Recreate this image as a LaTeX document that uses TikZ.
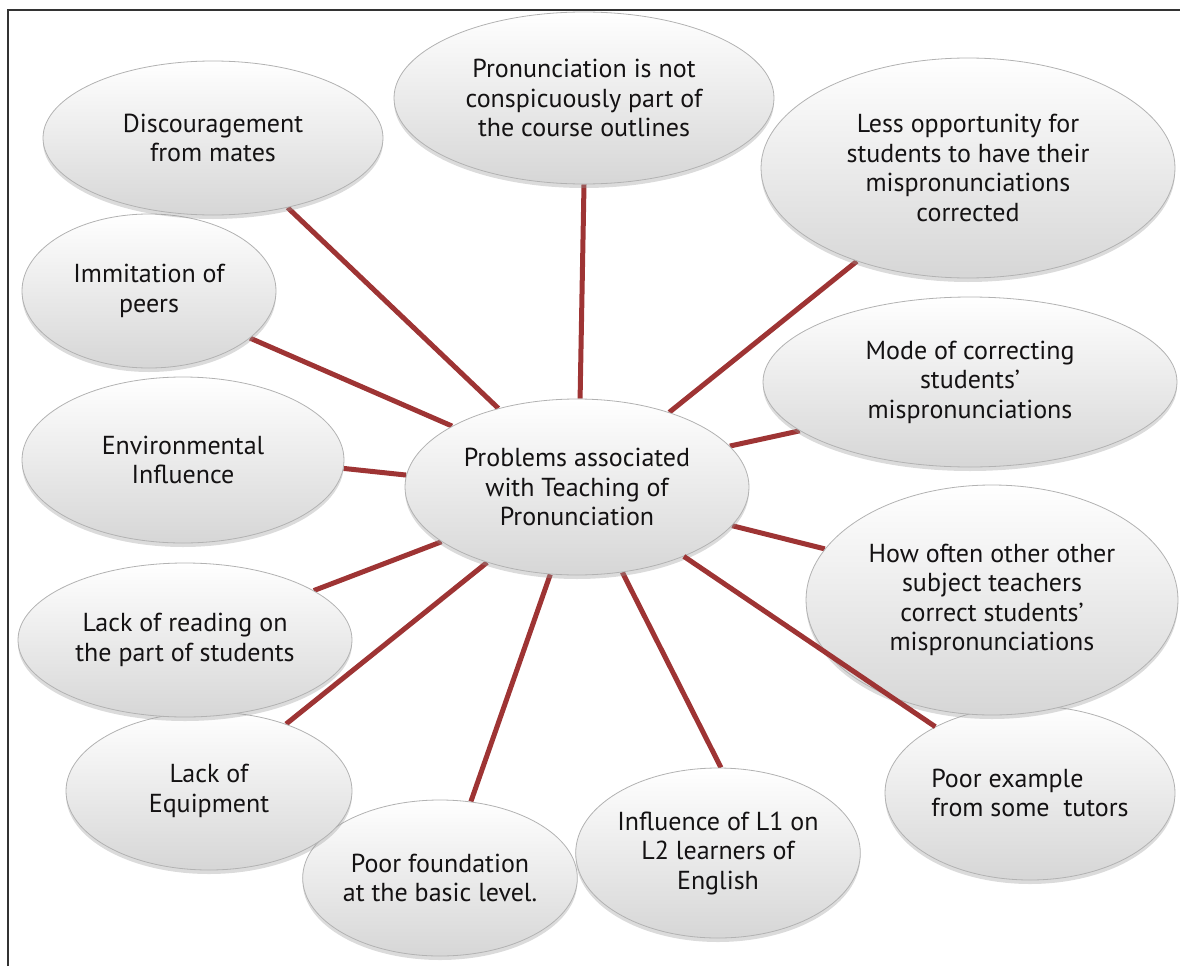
\documentclass[tikz,border=0pt]{standalone}
\usepackage{fontspec}
\setmainfont{PT Sans}
\usetikzlibrary{shapes.geometric,shadows,backgrounds}
\definecolor{linkred}{RGB}{158,52,52}
\definecolor{txt}{RGB}{20,18,19}
\begin{document}
\begin{tikzpicture}[x=1pt,y=-1pt,
  bubble/.style={ellipse, inner sep=0pt, align=center,
    font=\fontsize{26}{29.5}\selectfont, text=txt,
    top color=white, middle color=gray!8, bottom color=gray!32, draw=gray!60, line width=0.8pt,
    drop shadow={shadow xshift=0pt, shadow yshift=-4pt, opacity=0.35, fill=gray!80}},
  link/.style={draw=linkred, line width=5pt},
  frame/.style={draw=black!80, line width=1.3pt}]
\useasboundingbox (0,0) rectangle (1180,966);
\draw[frame] (8,966) -- (8,10) -- (1180,10);

% outer bubbles
\node[bubble, minimum width=254pt, minimum height=156pt] (A8) at (440,878) {Poor foundation\\at the basic level.};
\node[bubble, minimum width=280pt, minimum height=170pt] (A7) at (718,853) {Influence of L1 on\\L2 learners of\\English};
\node[bubble, minimum width=286pt, minimum height=158pt] (A9) at (209,791) {Lack of\\Equipment};
\node[bubble, minimum width=334pt, minimum height=154pt] (A10) at (185,640) {Lack of reading on\\the part of students};
\node[bubble, minimum width=322pt, minimum height=166pt] (A11) at (183,460) {Environmental\\Influence};
\node[bubble, minimum width=254pt, minimum height=154pt] (A12) at (149,291) {Immitation of\\peers};
\node[bubble, minimum width=340pt, minimum height=154pt] (A1) at (213,138) {Discouragement\\from mates};
\node[bubble, minimum width=380pt, minimum height=172pt] (A2) at (584,98) {Pronunciation is not\\conspicuously part of\\the course outlines};
\node[bubble, minimum width=414pt, minimum height=220pt] (A3) at (968,168) {Less opportunity for\\students to have their\\mispronunciations\\corrected};
\node[bubble, minimum width=414pt, minimum height=170pt] (A4) at (970,382) {Mode of correcting\\students'\\mispronunciations};
\node[bubble, minimum width=290pt, minimum height=174pt, align=left] (A6) at (1030,793) {Poor example\\from some~ tutors};
\node[bubble, minimum width=372pt, minimum height=230pt] (A5) at (992,600) {How often other other\\subject teachers\\correct students'\\mispronunciations};

% central bubble
\node[bubble, minimum width=344pt, minimum height=176pt] (C) at (577,487) {Problems associated\\with Teaching of\\Pronunciation};

% connectors
\begin{scope}[on background layer]
\draw[link] (A1.-43.8) -- (C.135.4);
\draw[link] (A2.-90.7) -- (C.88.7);
\draw[link] (A3.-140.2) -- (C.39.5);
\draw[link] (A4.-164.8) -- (C.15.2);
\draw[link] (A5.163.8) -- (C.-14.5);
\draw[link] (A7.88.7) -- (C.-62.1);
\draw[link] (A8.68.5) -- (C.-107);
\draw[link] (A9.41.6) -- (C.-140.6);
\draw[link] (A10.21) -- (C.-158.6);
\draw[link] (A11.-3.6) -- (C.176.3);
\draw[link] (A12.-25.2) -- (C.154.5);
\end{scope}
\draw[link] (A6.145.8) -- (C.-33.3);
\end{tikzpicture}
\end{document}
